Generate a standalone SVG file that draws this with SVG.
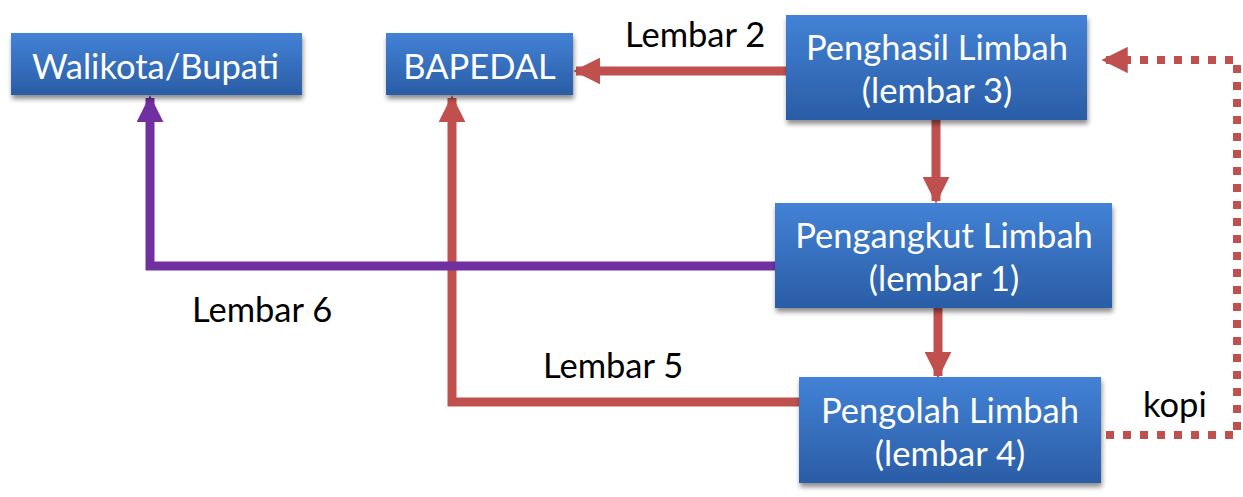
<svg xmlns="http://www.w3.org/2000/svg" width="1243" height="497" viewBox="0 0 1243 497">
<defs>
<linearGradient id="g" x1="0" y1="0" x2="0" y2="1">
<stop offset="0" stop-color="#4382d6"/>
<stop offset="1" stop-color="#2a5da6"/>
</linearGradient>
<filter id="sh" x="-10%" y="-10%" width="120%" height="130%">
<feGaussianBlur in="SourceAlpha" stdDeviation="2.5"/>
<feOffset dx="1" dy="4" result="b"/>
<feComponentTransfer><feFuncA type="linear" slope="0.45"/></feComponentTransfer>
<feMerge><feMergeNode/><feMergeNode in="SourceGraphic"/></feMerge>
</filter>
<marker id="ar" viewBox="0 0 10 10" refX="9" refY="5" markerWidth="3" markerHeight="3" orient="auto" markerUnits="strokeWidth">
<path d="M0,0 L10,5 L0,10 z" fill="#c0504d"/>
</marker>
<marker id="ap" viewBox="0 0 10 10" refX="9" refY="5" markerWidth="3" markerHeight="3" orient="auto" markerUnits="strokeWidth">
<path d="M0,0 L10,5 L0,10 z" fill="#7030a0"/>
</marker>
<marker id="ad" viewBox="0 0 10 10" refX="9" refY="5" markerWidth="3.3" markerHeight="3.3" orient="auto" markerUnits="strokeWidth">
<path d="M0,0 L10,5 L0,10 z" fill="#c0504d"/>
</marker>
</defs>
<style>
.box{fill:url(#g);filter:url(#sh)}
.t{font-family:Lato,"Open Sans",sans-serif;font-size:34.5px;fill:#ffffff;text-anchor:middle}
.l{font-family:Lato,"Open Sans",sans-serif;font-size:34.5px;fill:#000000}
.r{fill:none;stroke:#c0504d;stroke-width:9}
.p{fill:none;stroke:#7030a0;stroke-width:9}
.d{fill:none;stroke:#c0504d;stroke-width:8;stroke-dasharray:8 9}
</style>
<g id="connectors">
<path class="r" d="M786,71 L576,71" marker-end="url(#ar)"/>
<path class="r" d="M936,120 L936,201" marker-end="url(#ar)"/>
<path class="r" d="M938,308 L938,376" marker-end="url(#ar)"/>
<path class="r" d="M799,402 L452,402 L452,98" marker-end="url(#ar)"/>
<path class="p" d="M775,266 L150,266 L150,98" marker-end="url(#ap)"/>
<path class="d" d="M1106,435 L1237,435 L1237,60 L1104,60" marker-end="url(#ad)"/>
</g>
<g id="walikota">
<rect class="box" x="11" y="33" width="291" height="62"/>
<text class="t" x="155.5" y="79">Walikota/Bupati</text>
</g>
<g id="bapedal">
<rect class="box" x="386" y="33" width="187" height="62"/>
<text class="t" x="479.5" y="79">BAPEDAL</text>
</g>
<g id="penghasil">
<rect class="box" x="786" y="15" width="301" height="105"/>
<text class="t" x="937" y="60">Penghasil Limbah</text>
<text class="t" x="937" y="103">(lembar 3)</text>
</g>
<g id="pengangkut">
<rect class="box" x="775" y="203" width="337" height="105"/>
<text class="t" x="944" y="248">Pengangkut Limbah</text>
<text class="t" x="944" y="291">(lembar 1)</text>
</g>
<g id="pengolah">
<rect class="box" x="799" y="377" width="302" height="106"/>
<text class="t" x="950" y="423">Pengolah Limbah</text>
<text class="t" x="950" y="466">(lembar 4)</text>
</g>
<g id="labels">
<text class="l" x="625" y="47">Lembar 2</text>
<text class="l" x="192" y="322">Lembar 6</text>
<text class="l" x="543" y="378">Lembar 5</text>
<text class="l" x="1143" y="417">kopi</text>
</g>
</svg>
